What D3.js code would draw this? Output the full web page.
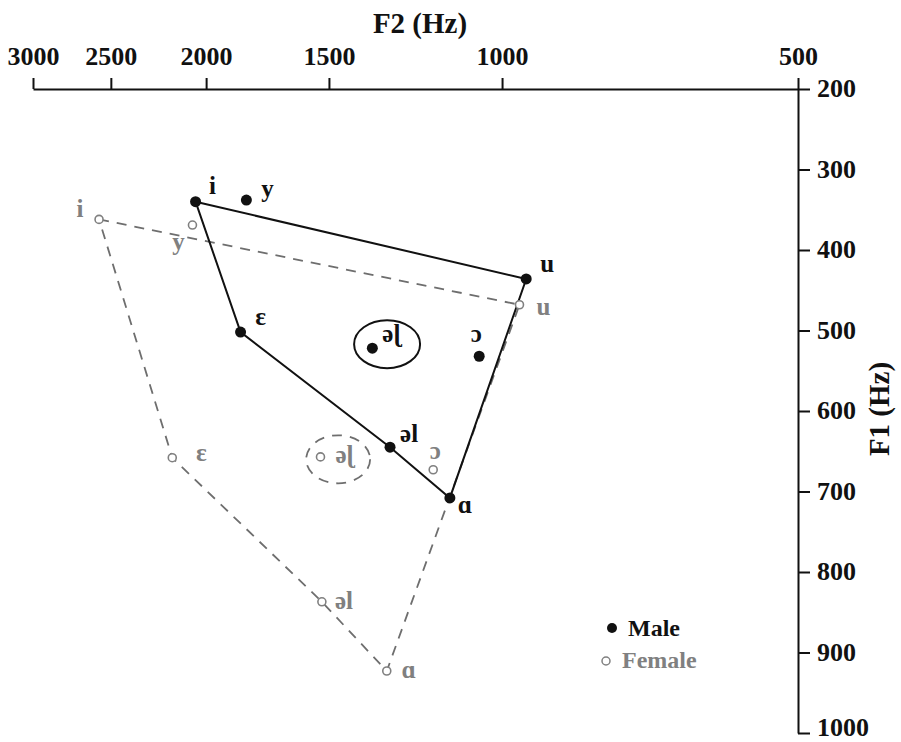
<!DOCTYPE html>
<html>
<head>
<meta charset="utf-8">
<script src="https://cdn.jsdelivr.net/npm/d3@7"></script>
<style>
  html, body { margin: 0; padding: 0; background: #fff; }
  svg { display: block; font-family: "Liberation Serif", "Times New Roman", serif; font-weight: bold; }
</style>
</head>
<body>
<svg id="chart" width="901" height="742"></svg>
<script>
// Vowel formant means (Hz)
const vowels = ["i", "y", "u", "ɛ", "əɭ", "ɔ", "əl", "ɑ"];
const maleF2 = [2050, 1820, 945, 1845, 1355, 1055, 1300, 1130];
const maleF1 = [340, 338, 436, 502, 522, 532, 645, 708];
const femaleF2 = [2570, 2065, 960, 2165, 1530, 1175, 1525, 1310];
const femaleF1 = [362, 369, 468, 658, 657, 673, 837, 923];

// Vowel-space outline (corner vowels), drawn in this order and closed
const outline = ["i", "u", "ɑ", "əl", "ɛ"];

// Spread ellipses around the rhotic vowel (centre in Hz)
const ellipseF2 = { male: 1309, female: 1468 };
const ellipseF1 = { male: 517, female: 660 };

// Axis ticks
const f2Ticks = [3000, 2500, 2000, 1500, 1000, 500];
const f1Ticks = [200, 300, 400, 500, 600, 700, 800, 900, 1000];

const svg = d3.select("#chart");

const x = d3.scaleLog().domain([3000, 500]).range([33, 798]);
const y = d3.scaleLinear().domain([200, 1000]).range([89, 733]);

const FEMALE = "#808080";
const FEMALE_LINE = "#6e6e6e";

// --- axes ---
const xAxis = d3.axisTop(x).tickValues(f2Ticks).tickFormat(d3.format("d"))
  .tickSizeInner(11).tickSizeOuter(0).tickPadding(13);
const gx = svg.append("g").attr("transform", `translate(0,${y(200)})`).call(xAxis);

const yAxis = d3.axisRight(y).tickValues(f1Ticks).tickFormat(d3.format("d"))
  .tickSizeInner(12).tickSizeOuter(0).tickPadding(7);
const gy = svg.append("g").attr("transform", `translate(${x(500)},0)`).call(yAxis);

[gx, gy].forEach(g => {
  g.select(".domain").attr("stroke", "#111").attr("stroke-width", 2);
  g.selectAll(".tick line").attr("stroke", "#111").attr("stroke-width", 2);
  g.selectAll(".tick text")
    .attr("fill", "#111")
    .style("font-family", "Liberation Serif, serif")
    .style("font-weight", "bold")
    .style("font-size", "26px");
});
gx.selectAll(".tick text").attr("dy", "0");
// the lowest label sits a little higher so it stays inside the frame
gy.selectAll(".tick text").attr("dy", d => d === 1000 ? "0.08em" : "0.3em");

svg.append("text")
  .attr("x", 420).attr("y", 33)
  .attr("text-anchor", "middle")
  .attr("font-size", 29).attr("fill", "#111")
  .text("F2 (Hz)");

svg.append("text")
  .attr("transform", "translate(889,409) rotate(-90)")
  .attr("text-anchor", "middle")
  .attr("font-size", 29).attr("fill", "#111")
  .text("F1 (Hz)");

// --- build records ---
const male = vowels.map((v, i) => ({ v, f2: maleF2[i], f1: maleF1[i] }));
const female = vowels.map((v, i) => ({ v, f2: femaleF2[i], f1: femaleF1[i] }));

const polyLine = d3.line().x(d => x(d.f2)).y(d => y(d.f1)).curve(d3.curveLinearClosed);
const pick = (data) => outline.map(v => data.find(d => d.v === v));

// female outline (dashed)
svg.append("path")
  .attr("d", polyLine(pick(female)))
  .attr("fill", "none")
  .attr("stroke", FEMALE_LINE)
  .attr("stroke-width", 1.8)
  .attr("stroke-dasharray", "10,8");

// male outline (solid)
svg.append("path")
  .attr("d", polyLine(pick(male)))
  .attr("fill", "none")
  .attr("stroke", "#111")
  .attr("stroke-width", 2);

// ellipses
svg.append("ellipse")
  .attr("cx", x(ellipseF2.male)).attr("cy", y(ellipseF1.male))
  .attr("rx", 33).attr("ry", 24)
  .attr("fill", "none").attr("stroke", "#111").attr("stroke-width", 2);
svg.append("ellipse")
  .attr("cx", x(ellipseF2.female)).attr("cy", y(ellipseF1.female))
  .attr("rx", 32).attr("ry", 24)
  .attr("fill", "none").attr("stroke", FEMALE_LINE).attr("stroke-width", 1.8)
  .attr("stroke-dasharray", "10,8");

// label placement relative to each marker: [dx, dy, anchor]
const maleLabelPos = {
  "i": [17, -8, "middle"], "y": [21, -3, "middle"], "u": [21, -7, "middle"],
  "ɛ": [20, -7, "middle"], "əɭ": [10, -6, "start"], "ɔ": [-3, -14, "middle"],
  "əl": [10, -5, "start"], "ɑ": [15, 15, "middle"]
};
const femaleLabelPos = {
  "i": [-19, -2, "middle"], "y": [-14, 25, "middle"], "u": [24, 10, "middle"],
  "ɛ": [29, 3, "middle"], "əɭ": [15, 6, "start"], "ɔ": [2, -11, "middle"],
  "əl": [13, 7, "start"], "ɑ": [22, 7, "middle"]
};

// female markers
svg.append("g").selectAll("circle").data(female).join("circle")
  .attr("cx", d => x(d.f2)).attr("cy", d => y(d.f1)).attr("r", 4)
  .attr("fill", "#fff").attr("stroke", FEMALE).attr("stroke-width", 1.6);

svg.append("g").selectAll("text").data(female).join("text")
  .attr("x", d => x(d.f2) + femaleLabelPos[d.v][0])
  .attr("y", d => y(d.f1) + femaleLabelPos[d.v][1])
  .attr("text-anchor", d => femaleLabelPos[d.v][2])
  .attr("font-size", 25).attr("fill", FEMALE)
  .text(d => d.v);

// male markers
svg.append("g").selectAll("circle").data(male).join("circle")
  .attr("cx", d => x(d.f2)).attr("cy", d => y(d.f1)).attr("r", 5.5)
  .attr("fill", "#111");

svg.append("g").selectAll("text").data(male).join("text")
  .attr("x", d => x(d.f2) + maleLabelPos[d.v][0])
  .attr("y", d => y(d.f1) + maleLabelPos[d.v][1])
  .attr("text-anchor", d => maleLabelPos[d.v][2])
  .attr("font-size", 25).attr("fill", "#111")
  .text(d => d.v);

// legend
const legend = svg.append("g");
legend.append("circle").attr("cx", 612).attr("cy", 628).attr("r", 5).attr("fill", "#111");
legend.append("text").attr("x", 628).attr("y", 636).attr("font-size", 24).attr("fill", "#111").text("Male");
legend.append("circle").attr("cx", 606).attr("cy", 661).attr("r", 4)
  .attr("fill", "#fff").attr("stroke", FEMALE).attr("stroke-width", 1.5);
legend.append("text").attr("x", 622).attr("y", 668).attr("font-size", 24).attr("fill", FEMALE).text("Female");
</script>
</body>
</html>
